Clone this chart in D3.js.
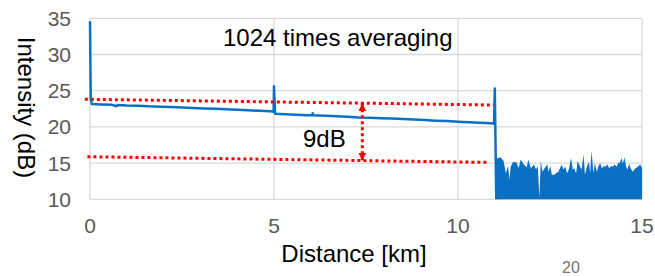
<!DOCTYPE html>
<html>
<head>
<meta charset="utf-8">
<script src="https://cdn.jsdelivr.net/npm/d3@7"></script>
<style>
  body { margin: 0; background: #fff; }
  text { font-family: "Liberation Sans", Arial, sans-serif; }
</style>
</head>
<body>
<script>
// tick values
const xTicks = [0, 5, 10, 15]
const yTicks = [10, 15, 20, 25, 30, 35]

// main OTDR trace [km, dB]
const trace = [
    [0, 34.6], [0.02, 24.0], [0.05, 23.15], [0.3, 23.1], [0.6, 23.05], [0.72, 22.85], [0.75, 23.02],
    [1.0, 22.95], [1.3, 22.93], [1.6, 22.84], [1.9, 22.8], [2.2, 22.74], [2.5, 22.68], [2.8, 22.62],
    [3.1, 22.55], [3.4, 22.5], [3.7, 22.43], [4.0, 22.36], [4.3, 22.3], [4.6, 22.22], [4.9, 22.15],
    [4.99, 22.1], [5.0, 25.6], [5.03, 21.8], [5.3, 21.74], [5.6, 21.68], [5.9, 21.62], [6.04, 21.6],
    [6.05, 21.88], [6.06, 21.6], [6.4, 21.54], [6.7, 21.46], [7.0, 21.4], [7.3, 21.3], [7.6, 21.28],
    [7.9, 21.2], [8.2, 21.15], [8.5, 21.08], [8.8, 21.02], [9.1, 20.95], [9.4, 20.86], [9.7, 20.8],
    [10.0, 20.72], [10.3, 20.65], [10.6, 20.56], [10.9, 20.5], [10.98, 20.45], [11.0, 25.3], [11.04, 10]
]

// noise floor envelope after fibre end [km, dB]
const noise = [
    [11.04, 15.7], [11.07, 15.66], [11.16, 15.8], [11.24, 15.3], [11.30, 13.6], [11.36, 14.6], [11.40, 12.7],
    [11.43, 14.5], [11.50, 15.2], [11.59, 15.1], [11.65, 14.3], [11.70, 15.5], [11.79, 14.8], [11.87, 14.4],
    [11.91, 15.5], [11.98, 14.3], [12.06, 14.8], [12.12, 14.1], [12.17, 14.6], [12.21, 10.2], [12.25, 15.3],
    [12.30, 13.8], [12.35, 14.3], [12.43, 14.8], [12.46, 13.8], [12.51, 14.6], [12.55, 13.4], [12.62, 13.4],
    [12.66, 13.6], [12.73, 13.8], [12.77, 14.3], [12.82, 14.8], [12.86, 14.1], [12.91, 14.5], [12.97, 13.6],
    [13.02, 14.3], [13.07, 15.7], [13.12, 14.1], [13.16, 14.3], [13.21, 13.6], [13.25, 15.3], [13.32, 14.5],
    [13.36, 14.1], [13.41, 16.2], [13.45, 13.4], [13.50, 14.5], [13.56, 15.2], [13.59, 13.6], [13.63, 16.7],
    [13.68, 13.6], [13.72, 15.0], [13.77, 13.8], [13.81, 14.5], [13.86, 15.0], [13.91, 14.3], [13.97, 14.6],
    [14.01, 14.5], [14.06, 14.8], [14.11, 14.3], [14.16, 14.6], [14.20, 14.5], [14.26, 14.8], [14.31, 14.5],
    [14.36, 15.1], [14.40, 15.0], [14.44, 15.7], [14.48, 14.9], [14.52, 15.8], [14.57, 14.5], [14.60, 14.1],
    [14.65, 14.9], [14.69, 14.3], [14.75, 13.8], [14.80, 14.2], [14.86, 14.4], [14.91, 14.6], [14.95, 14.8],
    [15.0, 14.3]
]

// red dotted reference lines and the 9dB arrow
const upperRef = [[-0.14, 23.82], [10.96, 23.02]]
const lowerRef = [[-0.07, 15.88], [10.8, 15.1]]
const arrow = [[7.4, 23.25], [7.4, 15.33]]

const w = 655
const h = 276
const blue = "#0a70c4"

let svg = d3.select("body")
            .append("svg")
            .attr("width", w)
            .attr("height", h)

let x = d3.scaleLinear().domain([0, 15]).range([90, 642])
let y = d3.scaleLinear().domain([10, 35]).range([199.3, 18.3])

// gridlines
svg.selectAll(".hgrid")
    .data(yTicks)
    .enter()
    .append("line")
    .attr("x1", x(0))
    .attr("x2", x(15))
    .attr("y1", function(d) {return y(d)})
    .attr("y2", function(d) {return y(d)})
    .attr("stroke", "#d9d9d9")
    .attr("stroke-width", 1.3)

svg.selectAll(".vgrid")
    .data(xTicks)
    .enter()
    .append("line")
    .attr("x1", function(d) {return x(d)})
    .attr("x2", function(d) {return x(d)})
    .attr("y1", y(35))
    .attr("y2", y(10))
    .attr("stroke", "#d9d9d9")
    .attr("stroke-width", 1.3)

// tick labels
svg.selectAll(".ylab")
    .data(yTicks)
    .enter()
    .append("text")
    .text(function(d) {return d})
    .attr("x", 71)
    .attr("y", function(d) {return y(d) + 7.5})
    .attr("text-anchor", "end")
    .attr("font-size", "21px")
    .attr("fill", "#595959")

svg.selectAll(".xlab")
    .data(xTicks)
    .enter()
    .append("text")
    .text(function(d) {return d})
    .attr("x", function(d) {return x(d)})
    .attr("y", 233)
    .attr("text-anchor", "middle")
    .attr("font-size", "21px")
    .attr("fill", "#595959")

// noise floor area
let area = d3.area()
    .x(function(d) {return x(d[0])})
    .y0(y(10))
    .y1(function(d) {return y(d[1])})

svg.append("path")
    .datum(noise)
    .attr("d", area)
    .attr("fill", blue)

// trace
let line = d3.line()
    .x(function(d) {return x(d[0])})
    .y(function(d) {return y(d[1])})

svg.append("path")
    .datum(trace)
    .attr("d", line)
    .attr("fill", "none")
    .attr("stroke", blue)
    .attr("stroke-width", 2.5)
    .attr("stroke-linejoin", "round")

// red dotted lines
svg.selectAll(".ref")
    .data([upperRef, lowerRef])
    .enter()
    .append("path")
    .attr("d", line)
    .attr("fill", "none")
    .attr("stroke", "#ff0000")
    .attr("stroke-width", 3)
    .attr("stroke-dasharray", "3,3")

// arrow heads
svg.append("defs")
    .append("marker")
    .attr("id", "head")
    .attr("viewBox", "0 0 10 10")
    .attr("refX", 10)
    .attr("refY", 5)
    .attr("markerUnits", "userSpaceOnUse")
    .attr("markerWidth", 8)
    .attr("markerHeight", 8)
    .attr("orient", "auto-start-reverse")
    .append("path")
    .attr("d", "M0,0L10,5L0,10Z")
    .attr("fill", "#ff0000")

svg.append("path")
    .datum(arrow)
    .attr("d", line)
    .attr("fill", "none")
    .attr("stroke", "#ff0000")
    .attr("stroke-width", 3)
    .attr("stroke-dasharray", "3,3")
    .attr("marker-start", "url(#head)")
    .attr("marker-end", "url(#head)")

// texts
svg.append("text")
    .text("1024 times averaging")
    .attr("x", 223)
    .attr("y", 46)
    .attr("font-size", "24px")
    .attr("fill", "#000")

svg.append("text")
    .text("9dB")
    .attr("x", 303)
    .attr("y", 147)
    .attr("font-size", "24px")
    .attr("fill", "#000")

svg.append("text")
    .text("Distance [km]")
    .attr("x", 354)
    .attr("y", 262)
    .attr("text-anchor", "middle")
    .attr("font-size", "24px")
    .attr("fill", "#000")

svg.append("text")
    .text("Intensity (dB)")
    .attr("transform", "translate(18,107.5) rotate(90)")
    .attr("text-anchor", "middle")
    .attr("font-size", "24px")
    .attr("fill", "#000")

svg.append("text")
    .text("20")
    .attr("x", 571)
    .attr("y", 273)
    .attr("text-anchor", "middle")
    .attr("font-size", "16px")
    .attr("fill", "#757575")
</script>
</body>
</html>
